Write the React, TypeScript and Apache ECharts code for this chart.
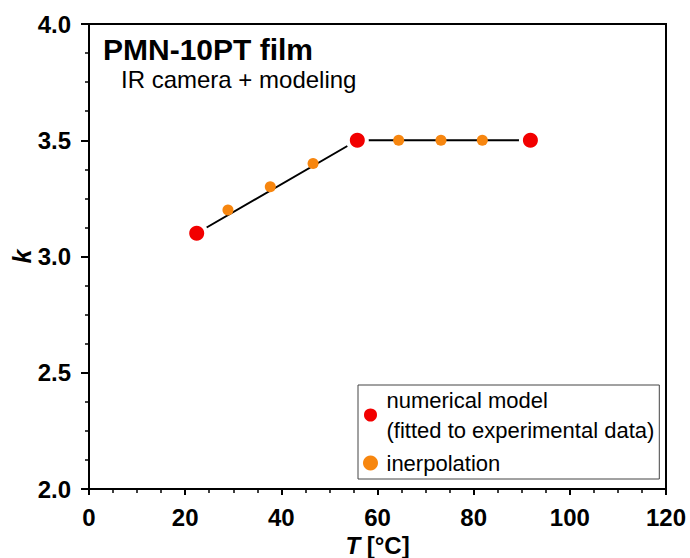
import React, { useEffect, useRef } from "react";
import * as echarts from "echarts";

const modelT = [22.4, 55.8, 91.8];
const modelK = [3.1, 3.5, 3.5];
const interpT = [28.9, 37.7, 46.6, 64.4, 73.2, 81.8];
const interpK = [3.2, 3.3, 3.4, 3.5, 3.5, 3.5];
const xTicks = { min: 0, max: 120, interval: 20 };
const yTicks = { min: 2.0, max: 4.0, interval: 0.5 };
const modelName = "numerical model (fitted to experimental data)";
const interpName = "inerpolation";
const titleText = "PMN-10PT film";
const subtitleText = "IR camera + modeling";

const FONT = "'Liberation Sans', Arial, sans-serif";

export default function App() {
  const ref = useRef<HTMLDivElement>(null);
  useEffect(() => {
    if (!ref.current) return;
    const chart = echarts.init(ref.current, null, { renderer: "svg" });
    const modelData = modelT.map((t, i) => [t, modelK[i]]);
    const interpData = interpT.map((t, i) => [t, interpK[i]]);
    chart.setOption({
      animation: false,
      backgroundColor: "#fff",
      textStyle: { fontFamily: FONT },
      grid: {
        left: 89,
        right: 24,
        top: 24,
        bottom: 69,
        containLabel: false,
        outerBoundsMode: "none",
        show: true,
        borderColor: "#000",
        borderWidth: 2,
      },
      graphic: [
        {
          type: "text",
          left: 103,
          top: 34,
          style: {
            text: titleText,
            font: `bold 30px ${FONT}`,
            fill: "#000",
          },
        },
        {
          type: "text",
          left: 121,
          top: 67,
          style: {
            text: subtitleText,
            font: `24px ${FONT}`,
            fill: "#000",
          },
        },
      ],
      legend: {
        data: [modelName, interpName],
        orient: "vertical",
        left: 358,
        top: 385,
        borderColor: "#444",
        borderWidth: 1,
        padding: [0, 5, 1, 4],
        itemWidth: 22,
        itemHeight: 15,
        itemGap: 3,
        formatter: (name: string) =>
          name === modelName
            ? "numerical model\n(fitted to experimental data)"
            : name,
        textStyle: {
          fontFamily: FONT,
          fontSize: 22,
          lineHeight: 30,
          color: "#000",
        },
      },
      xAxis: {
        type: "value",
        min: xTicks.min,
        max: xTicks.max,
        interval: xTicks.interval,
        name: "{i|T} [°C]",
        nameLocation: "middle",
        nameGap: 43,
        nameMoveOverlap: false,
        nameTextStyle: {
          fontFamily: FONT,
          fontSize: 24,
          fontWeight: "bold",
          color: "#000",
          lineHeight: 26,
          rich: {
            i: {
              fontFamily: FONT,
              fontSize: 24,
              fontWeight: "bold",
              fontStyle: "italic",
              color: "#000",
              lineHeight: 26,
            },
          },
        },
        axisLine: { show: true, onZero: false, lineStyle: { color: "#000", width: 2 } },
        axisTick: { show: true, inside: false, length: 6, lineStyle: { color: "#000", width: 2 } },
        minorTick: { show: true, splitNumber: 4, length: 4, lineStyle: { color: "#000", width: 1.5 } },
        splitLine: { show: false },
        axisLabel: {
          margin: 16,
          fontFamily: FONT,
          fontSize: 24,
          fontWeight: "bold",
          color: "#000",
        },
      },
      yAxis: {
        type: "value",
        min: yTicks.min,
        max: yTicks.max,
        interval: yTicks.interval,
        name: "k",
        nameLocation: "middle",
        nameGap: 55,
        nameMoveOverlap: false,
        nameTextStyle: {
          fontFamily: FONT,
          fontSize: 25,
          fontWeight: "bold",
          fontStyle: "italic",
          color: "#000",
        },
        axisLine: { show: true, onZero: false, lineStyle: { color: "#000", width: 2 } },
        axisTick: { show: true, inside: false, length: 8, lineStyle: { color: "#000", width: 2 } },
        minorTick: { show: true, splitNumber: 4, length: 4, lineStyle: { color: "#000", width: 1.5 } },
        splitLine: { show: false },
        axisLabel: {
          margin: 18,
          fontFamily: FONT,
          fontSize: 24,
          fontWeight: "bold",
          color: "#000",
          formatter: (v: number) => v.toFixed(1),
        },
      },
      series: [
        {
          name: "fit line",
          type: "line",
          data: modelData,
          symbol: "none",
          lineStyle: { color: "#000", width: 2 },
          z: 1,
          silent: true,
        },
        {
          name: modelName,
          type: "scatter",
          data: modelData,
          symbol: "circle",
          symbolSize: 19,
          itemStyle: { color: "#f20000", opacity: 1, borderColor: "#fff", borderWidth: 4 },
          z: 3,
        },
        {
          name: interpName,
          type: "scatter",
          data: interpData,
          symbol: "circle",
          symbolSize: 11,
          itemStyle: { color: "#f7860f", opacity: 1 },
          z: 2,
        },
      ],
    });
    return () => chart.dispose();
  }, []);
  return (
    <div
      ref={ref}
      style={{ position: "fixed", left: 0, top: 0, width: 690, height: 558 }}
    />
  );
}
